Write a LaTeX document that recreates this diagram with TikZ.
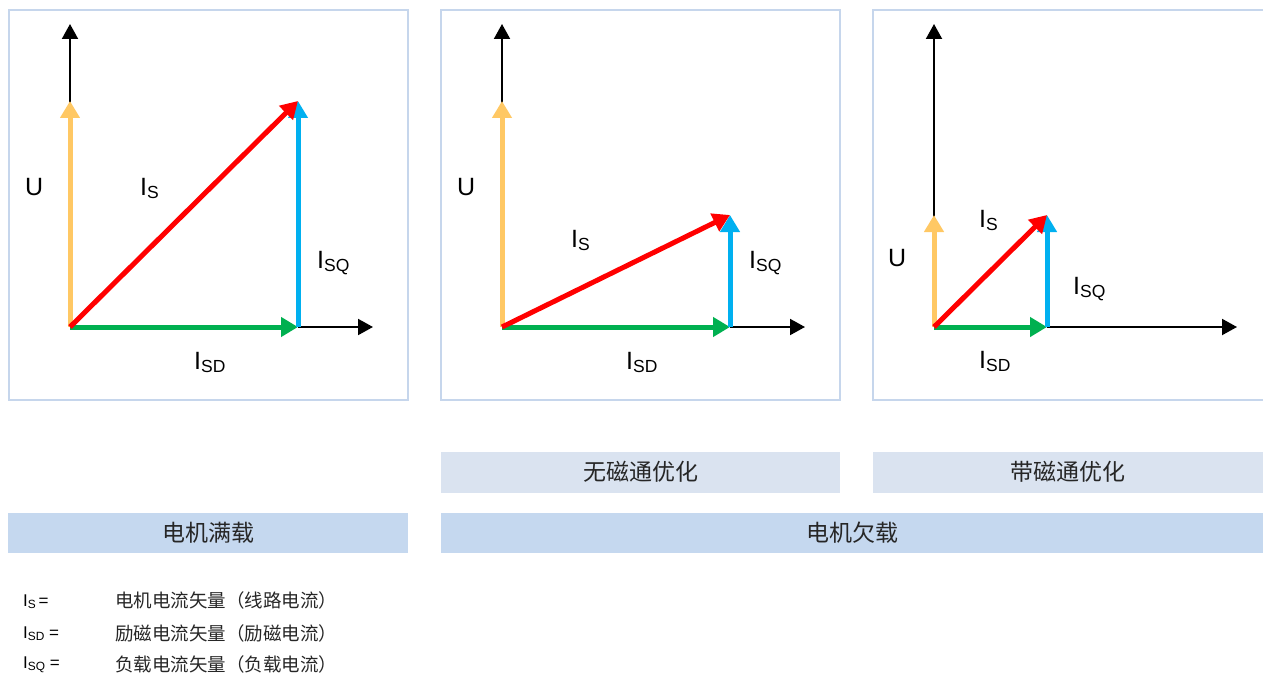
\documentclass[tikz,border=0pt]{standalone}
\usepackage{fontspec}
\usepackage{graphicx}
\setmainfont{Liberation Sans}
\newfontfamily\cjk{Noto Sans CJK SC}
\usetikzlibrary{arrows.meta}

\definecolor{uorange}{HTML}{FFC864}
\definecolor{isred}{HTML}{FF0000}
\definecolor{isqblue}{HTML}{00B0F0}
\definecolor{isdgreen}{HTML}{00B050}
\definecolor{framec}{HTML}{C6D6EC}
\definecolor{barlight}{HTML}{DAE3F0}
\definecolor{bardark}{HTML}{C5D8EF}

\newcommand{\vsub}[1]{\raisebox{-0.3ex}{\scalebox{0.7}{#1}}}

\begin{document}
\begin{tikzpicture}[
    x=1pt, y=-1pt,
    axis/.style={-{Triangle[length=15pt,width=16pt]}, line width=2pt, draw=black},
    vec/.style={-{Triangle[length=17pt,width=19pt]}, line width=5pt},
    frame/.style={draw=framec, line width=1.5pt},
    lbl/.style={anchor=base west, inner sep=0pt, font=\fontsize{25}{28}\selectfont},
    bartext/.style={font=\cjk\fontsize{23}{26}\selectfont, text=black!85},
    keyname/.style={anchor=base west, inner sep=0pt, font=\fontsize{17}{19}\selectfont},
    keytext/.style={anchor=west, inner sep=0pt, font=\cjk\fontsize{18.5}{22}\selectfont, text=black!85}
]
\useasboundingbox (0,0) rectangle (1263,674);

% Panel frames
\draw[frame] (9,10) rectangle (408,400);
\draw[frame] (441,10) rectangle (840,400);
\draw[frame] (1266,10) -- (873,10) -- (873,400) -- (1266,400);

% Panel 1: full load
\coordinate (o1) at (70,327);
\coordinate (y1) at (70,24);
\coordinate (x1) at (373,327);
\coordinate (u1) at (70,101);
\coordinate (p1) at (298,101);
\coordinate (d1) at (298,327);
\draw[axis] (o1) -- (y1);
\draw[axis] (d1) -- (x1);
\draw[vec, draw=uorange] (o1) -- (u1);
\draw[vec, draw=isdgreen] (o1) -- (d1);
\draw[vec, draw=isqblue] (d1) -- (p1);
\draw[vec, draw=isred] (o1) -- (p1);
\node[lbl] (ulbl1) at (25,195) {U};
\node[lbl] (islbl1) at (140,195) {I\vsub{S}};
\node[lbl] (isqlbl1) at (317,268) {I\vsub{SQ}};
\node[lbl] (isdlbl1) at (194,369) {I\vsub{SD}};

% Panel 2: part load, no flux optimisation
\coordinate (o2) at (502,327);
\coordinate (y2) at (502,24);
\coordinate (x2) at (805,327);
\coordinate (u2) at (502,101);
\coordinate (p2) at (730,215);
\coordinate (d2) at (730,327);
\draw[axis] (o2) -- (y2);
\draw[axis] (d2) -- (x2);
\draw[vec, draw=uorange] (o2) -- (u2);
\draw[vec, draw=isdgreen] (o2) -- (d2);
\draw[vec, draw=isqblue] (d2) -- (p2);
\draw[vec, draw=isred] (o2) -- (p2);
\node[lbl] (ulbl2) at (457,195) {U};
\node[lbl] (islbl2) at (571,247) {I\vsub{S}};
\node[lbl] (isqlbl2) at (749,268) {I\vsub{SQ}};
\node[lbl] (isdlbl2) at (626,369) {I\vsub{SD}};

% Panel 3: part load, with flux optimisation
\coordinate (o3) at (934,327);
\coordinate (y3) at (934,24);
\coordinate (x3) at (1237,327);
\coordinate (u3) at (934,215);
\coordinate (p3) at (1047,215);
\coordinate (d3) at (1047,327);
\draw[axis] (o3) -- (y3);
\draw[axis] (d3) -- (x3);
\draw[vec, draw=uorange] (o3) -- (u3);
\draw[vec, draw=isdgreen] (o3) -- (d3);
\draw[vec, draw=isqblue] (d3) -- (p3);
\draw[vec, draw=isred] (o3) -- (p3);
\node[lbl] (ulbl3) at (888,266) {U};
\node[lbl] (islbl3) at (979,227) {I\vsub{S}};
\node[lbl] (isqlbl3) at (1073,294) {I\vsub{SQ}};
\node[lbl] (isdlbl3) at (979,368) {I\vsub{SD}};

% Caption bars
\fill[barlight] (441,452) rectangle (840,493);
\fill[barlight] (873,452) rectangle (1263,493);
\fill[bardark] (8,513) rectangle (408,553);
\fill[bardark] (441,513) rectangle (1263,553);
\node[bartext] (noopt) at (640.5,472) {无磁通优化};
\node[bartext] (withopt) at (1068,472) {带磁通优化};
\node[bartext] (fullload) at (208,533) {电机满载};
\node[bartext] (partload) at (852,533) {电机欠载};

% Legend
\node[keyname] (kis) at (23,606) {I\vsub{S}\,=};
\node[keyname] (kisd) at (23,638) {I\vsub{SD} =};
\node[keyname] (kisq) at (23,668) {I\vsub{SQ} =};
\node[keytext] (tis) at (115,600) {电机电流矢量（线路电流）};
\node[keytext] (tisd) at (115,633) {励磁电流矢量（励磁电流）};
\node[keytext] (tisq) at (115,664) {负载电流矢量（负载电流）};

\end{tikzpicture}
\end{document}
